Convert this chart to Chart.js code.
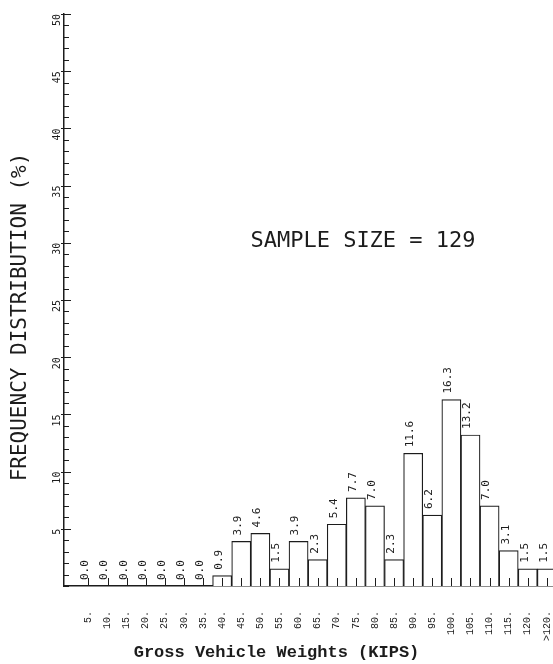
<!DOCTYPE html>
<html>
<head>
<meta charset="utf-8">
<title>Gross Vehicle Weights</title>
<style>
  html, body { margin: 0; padding: 0; background: #ffffff; }
  #wrap { width: 553px; height: 664px; }
  canvas { display: block; }
</style>
<script src="https://cdn.jsdelivr.net/npm/chart.js@4/dist/chart.umd.min.js"></script>
</head>
<body>
<div id="wrap"><canvas id="chart" width="553" height="664"></canvas></div>
<script>
// Weight classes (KIPS), one bar per class
const weightClasses = ['5.', '10.', '15.', '20.', '25.', '30.', '35.', '40.', '45.', '50.',
  '55.', '60.', '65.', '70.', '75.', '80.', '85.', '90.', '95.', '100.',
  '105.', '110.', '115.', '120.', '>120.'];

// Share of trucks in each weight class (%)
const frequencyPct = [0.0, 0.0, 0.0, 0.0, 0.0, 0.0, 0.0, 0.9, 3.9, 4.6,
  1.5, 3.9, 2.3, 5.4, 7.7, 7.0, 2.3, 11.6, 6.2, 16.3,
  13.2, 7.0, 3.1, 1.5, 1.5];

// Labelled marks on the percentage axis
const yMajorTicks = [5, 10, 15, 20, 25, 30, 35, 40, 45, 50];

const sampleNote = 'SAMPLE SIZE = 129';
const yTitle = 'FREQUENCY DISTRIBUTION (%)';
const xTitle = 'Gross Vehicle Weights (KIPS)';

const INK = '#1c1c1c';
const PLOT_FONT = '"DejaVu Sans Mono", monospace';

// Tick marks pointing into the plot: one per percent on the left axis,
// one at the middle of every weight class on the bottom axis
const innerTicks = {
  id: 'innerTicks',
  afterDatasetsDraw(chart) {
    const { ctx, chartArea, scales } = chart;
    const xs = scales.x, ys = scales.y;
    ctx.save();
    ctx.strokeStyle = INK;
    ctx.lineWidth = 1;
    ctx.beginPath();
    for (let v = ys.min; v <= ys.max; v += 1) {
      const y = Math.round(ys.getPixelForValue(v)) + 0.5;
      const major = yMajorTicks.includes(v);
      ctx.moveTo(chartArea.left - (major ? 3 : 0), y);
      ctx.lineTo(chartArea.left + (major ? 7 : 5), y);
    }
    weightClasses.forEach((_, i) => {
      const x = Math.round(xs.getPixelForValue(i)) + 0.5;
      ctx.moveTo(x, chartArea.bottom);
      ctx.lineTo(x, chartArea.bottom - 8);
    });
    ctx.stroke();
    ctx.restore();
  }
};

// Rotated value label above every bar
const barValueLabels = {
  id: 'barValueLabels',
  afterDatasetsDraw(chart) {
    const { ctx } = chart;
    const meta = chart.getDatasetMeta(0);
    ctx.save();
    ctx.fillStyle = INK;
    ctx.font = '11px ' + PLOT_FONT;
    ctx.textAlign = 'left';
    ctx.textBaseline = 'middle';
    meta.data.forEach((bar, i) => {
      ctx.save();
      ctx.translate(bar.x - 3, bar.y - 6);
      ctx.rotate(-Math.PI / 2);
      ctx.fillText(frequencyPct[i].toFixed(1), 0, 0);
      ctx.restore();
    });
    ctx.restore();
  }
};

// Vertical axis caption and the sample-size note
const captions = {
  id: 'captions',
  afterDraw(chart) {
    const { ctx } = chart;
    ctx.save();
    ctx.fillStyle = INK;
    ctx.textAlign = 'center';
    ctx.textBaseline = 'middle';
    ctx.font = '21px ' + PLOT_FONT;
    ctx.save();
    ctx.translate(21, 317);
    ctx.rotate(-Math.PI / 2);
    ctx.fillText(yTitle, 0, 0);
    ctx.restore();
    ctx.font = '22px ' + PLOT_FONT;
    ctx.fillText(sampleNote, 363, 241);
    ctx.restore();
  }
};

const points = frequencyPct.map((v, i) => ({ x: i, y: v }));

new Chart(document.getElementById('chart'), {
  type: 'bar',
  data: {
    datasets: [{
      data: points,
      backgroundColor: '#ffffff',
      borderColor: INK,
      borderWidth: 1.2,
      borderSkipped: 'bottom',
      categoryPercentage: 1,
      barPercentage: 1
    }]
  },
  options: {
    responsive: false,
    animation: false,
    layout: { padding: { top: 14, left: 0, right: 0, bottom: 0 } },
    plugins: {
      legend: { display: false },
      tooltip: { enabled: false },
      title: {
        display: true,
        position: 'bottom',
        text: xTitle,
        color: INK,
        font: { family: '"Liberation Mono", monospace', size: 17, weight: 'bold', lineHeight: 1 },
        padding: { top: 2, bottom: 3 }
      }
    },
    scales: {
      x: {
        type: 'linear',
        offset: false,
        min: -1.28,
        max: 24.32,
        afterBuildTicks(scale) {
          scale.ticks = weightClasses.map((_, i) => ({ value: i }));
        },
        afterFit(scale) {
          scale.height = 56;
          scale.paddingLeft = 0;
          scale.paddingRight = 0;
        },
        grid: { display: false, drawTicks: false },
        border: { display: true, color: INK, width: 1.5 },
        ticks: {
          autoSkip: false,
          minRotation: 90,
          maxRotation: 90,
          padding: 25,
          color: INK,
          font: { family: '"Liberation Mono", monospace', size: 10 },
          callback: (v) => weightClasses[v] ?? ''
        }
      },
      y: {
        type: 'linear',
        min: 0,
        max: 50,
        afterFit(scale) {
          scale.width = 64;
          scale.paddingTop = 0;
          scale.paddingBottom = 0;
        },
        grid: { display: false, drawTicks: false },
        border: { display: true, color: INK, width: 1.5 },
        ticks: {
          stepSize: 1,
          autoSkip: false,
          minRotation: 90,
          maxRotation: 90,
          padding: 7,
          color: INK,
          font: { family: PLOT_FONT, size: 10 },
          callback: (v) => (yMajorTicks.includes(v) ? String(v) : '')
        }
      }
    }
  },
  plugins: [innerTicks, barValueLabels, captions]
});
</script>
</body>
</html>
